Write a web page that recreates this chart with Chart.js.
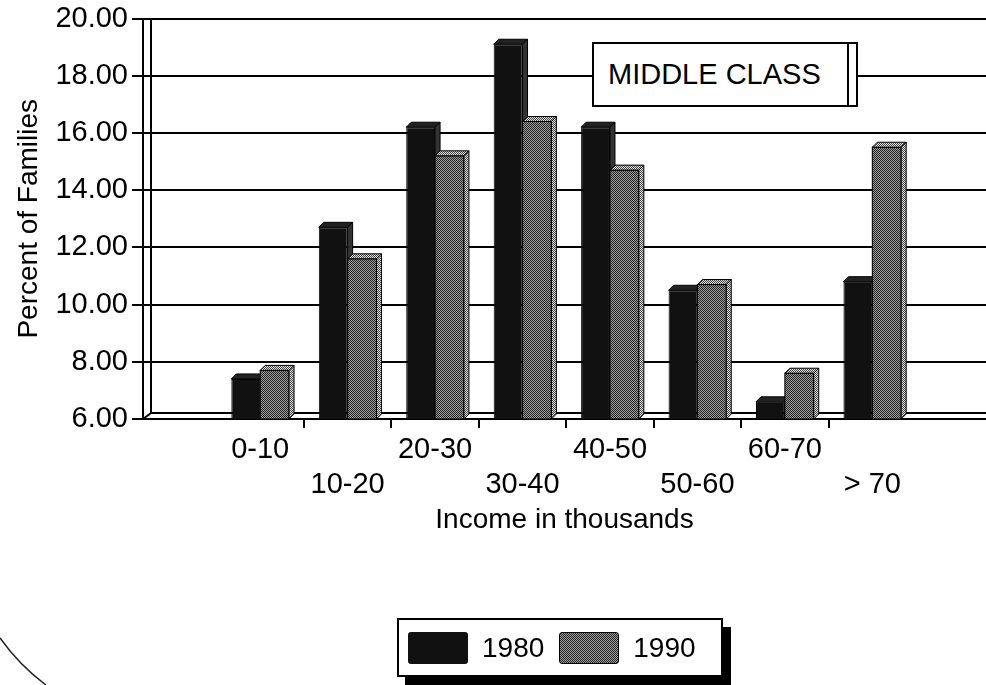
<!DOCTYPE html>
<html lang="en">
<head>
    <meta charset="UTF-8">
    <title>Percent of Families by Income</title>
    <style>
        body { margin: 0; background: #fff; }
        .wrap { position: relative; width: 986px; height: 685px; font-family: "Liberation Sans", Arial, sans-serif; }
        .note {
            position: absolute; left: 592px; top: 42px; width: 262px; height: 61px;
            border: 2px solid #000; background: #fff;
            font-size: 29px; line-height: 61px; text-indent: 14px; color: #000;
        }
        .note:after {
            content: ""; position: absolute; right: 7px; top: 0; bottom: 0; border-left: 2px solid #000;
        }
        .legend {
            position: absolute; left: 397px; top: 618px; width: 322px; height: 55px;
            border: 2px solid #000; background: #fff; box-shadow: 8px 9px 0 #000;
            display: flex; align-items: center; font-size: 28px; color: #000;
        }
        .sw { width: 60px; height: 32px; border-radius: 3px; margin: 0 14px 0 9px; }
        .sw.b { background: #111; }
        .sw.g { background: repeating-conic-gradient(#222 0 25%, #a0a0a0 0 50%) 0 0/2px 2px; border: 1px solid #000; width: 58px; height: 30px; margin-left: 15px; }
    </style>
    <script src="https://cdn.jsdelivr.net/npm/chart.js@4/dist/chart.umd.min.js"></script>
</head>
<body>
    <div class="wrap">
        <canvas id="grafica"></canvas>
        <div class="note">MIDDLE CLASS</div>
        <div class="legend"><span class="sw b"></span>1980<span class="sw g"></span>1990</div>
    </div>
    <script>
        const categories = ['0-10', '10-20', '20-30', '30-40', '40-50', '50-60', '60-70', '> 70'];
        const values1980 = [7.4, 12.7, 16.2, 19.1, 16.2, 10.5, 6.6, 10.8];
        const values1990 = [7.7, 11.6, 15.2, 16.4, 14.7, 10.7, 7.6, 15.5];
        const yMin = 6, yMax = 20, yStep = 2;

        const FONT = "'Liberation Sans', Arial, sans-serif";
        const depth = 5;

        function makePattern(dark, light) {
            const c = document.createElement('canvas');
            c.width = 2; c.height = 2;
            const g = c.getContext('2d');
            g.fillStyle = light; g.fillRect(0, 0, 2, 2);
            g.fillStyle = dark; g.fillRect(0, 0, 1, 1); g.fillRect(1, 1, 1, 1);
            return g.createPattern(c, 'repeat');
        }
        const grayPattern = makePattern('#222', '#a0a0a0');
        const sidePattern = makePattern('#444', '#e0e0e0');

        // pared y piso del grafico 3D (linea interior)
        const wall = {
            id: 'wall',
            beforeDatasetsDraw(chart) {
                const { ctx, chartArea: a } = chart;
                ctx.save();
                ctx.strokeStyle = '#000';
                ctx.lineWidth = 2;
                ctx.beginPath();
                ctx.moveTo(a.left + 8, a.top);
                ctx.lineTo(a.left + 8, a.bottom - 6);
                ctx.lineTo(a.left, a.bottom);
                ctx.moveTo(a.left + 8, a.bottom - 6);
                ctx.lineTo(a.right, a.bottom - 6);
                ctx.stroke();
                ctx.restore();
            },
            afterDraw(chart) {
                // borde de la hoja en la esquina
                const ctx = chart.ctx;
                ctx.save();
                ctx.strokeStyle = '#222';
                ctx.lineWidth = 1.5;
                ctx.beginPath();
                ctx.moveTo(0, 638);
                ctx.quadraticCurveTo(20, 666, 46, 685);
                ctx.stroke();
                ctx.restore();
            }
        };

        // caras de arriba y del lado, para el efecto 3D
        function drawBox(ctx, bar, bottom, front, top, side, redraw) {
            const p = bar.getProps(['x', 'y', 'width'], true);
            const l = p.x - p.width / 2, r = p.x + p.width / 2;
            if (redraw) {
                ctx.fillStyle = front;
                ctx.fillRect(l, p.y, r - l, bottom - p.y);
                ctx.strokeRect(l, p.y, r - l, bottom - p.y);
            }
            ctx.beginPath();
            ctx.moveTo(l, p.y); ctx.lineTo(l + depth, p.y - depth);
            ctx.lineTo(r + depth, p.y - depth); ctx.lineTo(r, p.y);
            ctx.closePath(); ctx.fillStyle = top; ctx.fill(); ctx.stroke();
            ctx.beginPath();
            ctx.moveTo(r, p.y); ctx.lineTo(r + depth, p.y - depth);
            ctx.lineTo(r + depth, bottom - depth); ctx.lineTo(r, bottom);
            ctx.closePath(); ctx.fillStyle = side; ctx.fill(); ctx.stroke();
        }

        const bars3d = {
            id: 'bars3d',
            afterDatasetsDraw(chart) {
                const ctx = chart.ctx;
                const bottom = chart.chartArea.bottom;
                const m0 = chart.getDatasetMeta(0), m1 = chart.getDatasetMeta(1);
                ctx.save();
                ctx.lineWidth = 1;
                ctx.strokeStyle = '#000';
                m0.data.forEach((bar, i) => {
                    drawBox(ctx, bar, bottom, '#111', '#222', '#333', false);
                    drawBox(ctx, m1.data[i], bottom, grayPattern, sidePattern, sidePattern, true);
                });
                ctx.restore();
            }
        };

        const xTicks = [];
        for (let i = 0; i < categories.length; i++) {
            xTicks.push(i);
            if (i < categories.length - 1) xTicks.push(i + 0.5);
        }

        new Chart(document.getElementById('grafica'), {
            type: 'bar',
            data: {
                datasets: [
                    {
                        label: '1980',
                        data: values1980.map((v, i) => ({ x: i, y: v })),
                        backgroundColor: '#111',
                        borderColor: '#000',
                        borderWidth: 1
                    },
                    {
                        label: '1990',
                        data: values1990.map((v, i) => ({ x: i, y: v })),
                        backgroundColor: grayPattern,
                        borderColor: '#000',
                        borderWidth: 1
                    }
                ]
            },
            options: {
                responsive: true,
                maintainAspectRatio: false,
                animation: false,
                layout: { padding: 0 },
                // the ruler sees ticks every half category, so 1.32 = 66% of one category
                categoryPercentage: 1.32,
                barPercentage: 1,
                plugins: {
                    legend: { display: false },
                    tooltip: { enabled: false }
                },
                scales: {
                    x: {
                        type: 'linear',
                        offset: false,
                        min: -1.34,
                        max: 8.3,
                        afterBuildTicks: (scale) => { scale.ticks = xTicks.map(v => ({ value: v })); },
                        afterFit: (scale) => { scale.height = 266; },
                        ticks: {
                            autoSkip: false,
                            maxRotation: 0,
                            padding: 5,
                            color: '#000',
                            font: { family: FONT, size: 29 },
                            callback: (v) => {
                                if (!Number.isInteger(v)) return '';
                                return v % 2 === 0 ? categories[v] : ['', categories[v]];
                            }
                        },
                        grid: {
                            offset: false,
                            drawOnChartArea: false,
                            tickLength: 9,
                            lineWidth: 2,
                            tickColor: (c) => (c.tick && Number.isInteger(c.tick.value)) ? 'rgba(0,0,0,0)' : '#000'
                        },
                        border: { color: '#000', width: 2 },
                        title: {
                            display: true,
                            text: 'Income in thousands',
                            color: '#000',
                            font: { family: FONT, size: 28 },
                            padding: { top: 4, bottom: 148 }
                        }
                    },
                    y: {
                        min: yMin,
                        max: yMax,
                        afterFit: (scale) => { scale.width = 143; },
                        ticks: {
                            stepSize: yStep,
                            padding: 4,
                            color: '#000',
                            font: { family: FONT, size: 29, lineHeight: 1 },
                            callback: (v) => v.toFixed(2)
                        },
                        grid: { color: '#000', lineWidth: 2, tickLength: 11 },
                        border: { color: '#000', width: 2 },
                        title: {
                            display: true,
                            text: 'Percent of Families',
                            color: '#000',
                            font: { family: FONT, size: 28 },
                            padding: { top: 12, bottom: 0 }
                        }
                    }
                }
            },
            plugins: [wall, bars3d]
        });
    </script>
</body>
</html>
